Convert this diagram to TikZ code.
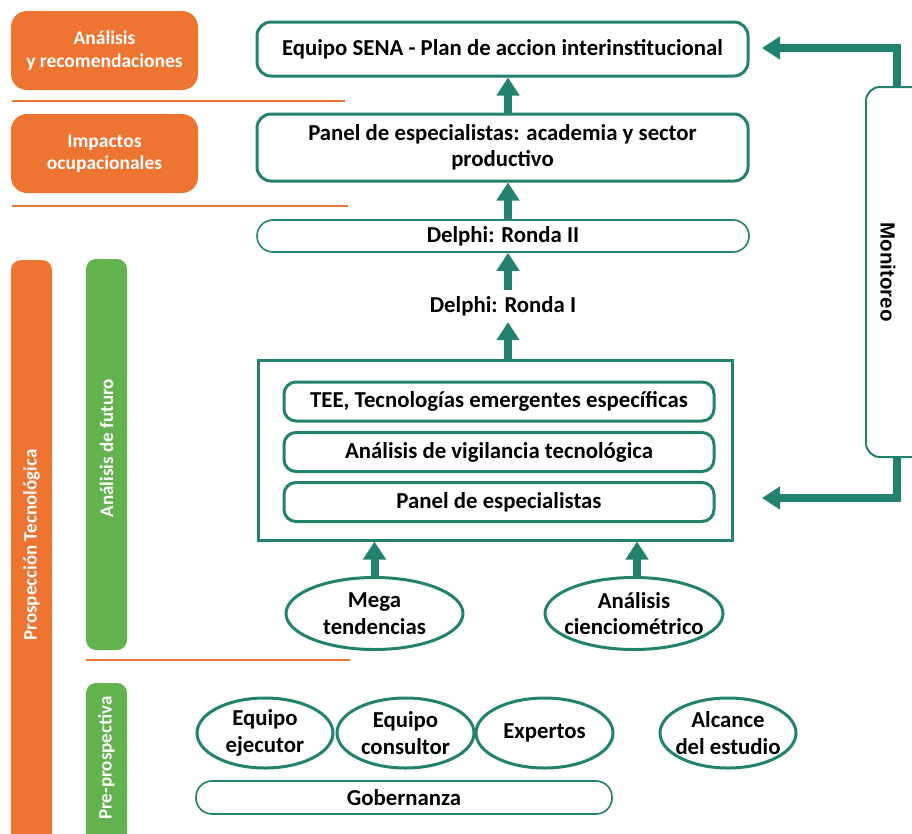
\documentclass[tikz,border=0pt]{standalone}
\usepackage{fontspec}
\setmainfont{Carlito}
\newfontfamily\arialf{Liberation Sans}
\usetikzlibrary{arrows.meta,shapes.geometric,calc}
\definecolor{teal1}{HTML}{23826F}
\definecolor{orng}{HTML}{ED7431}
\definecolor{grn}{HTML}{62B34D}
\begin{document}
\begin{tikzpicture}[x=1pt,y=-1pt,
  txt/.style={font=\fontsize{22.8}{26.5}\selectfont\bfseries, align=center, text=black},
  obox/.style={fill=orng, rounded corners=16pt, text=white, font=\fontsize{19.5}{22.5}\selectfont\bfseries, align=center, inner sep=0pt, minimum width=187pt, minimum height=79pt},
  bar/.style={rounded corners=10pt, inner sep=0pt, minimum width=41pt},
  vlabel/.style={text=white, font=\fontsize{19}{22}\selectfont\bfseries, rotate=90},
  sepline/.style={draw=orng, line width=2.5pt},
  tbox/.style={txt, draw=teal1, line width=3pt, rounded corners=14pt, inner sep=0pt, fill=white},
  thin/.style={txt, draw=teal1, line width=1.6pt, rounded corners=16pt, inner sep=0pt, fill=white},
  ell/.style={txt, ellipse, draw=teal1, line width=3pt, inner xsep=-40pt, inner ysep=-20pt, fill=white},
  bigarrow/.style={draw=teal1, line width=8pt, -{Triangle[width=22pt,length=18pt]}}
]
\clip (0,0) rectangle (912,833);
\fill[white] (0,0) rectangle (912,833);

% left column
\node[obox] (ar) at (104.5,50.5) {Análisis\\y recomendaciones};
\coordinate (l1a) at (12,101); \coordinate (l1b) at (345,101);
\draw[sepline] (l1a) -- (l1b);
\node[obox] (io) at (104.5,153.5) {Impactos\\ocupacionales};
\coordinate (l2a) at (12,206); \coordinate (l2b) at (348,206);
\draw[sepline] (l2a) -- (l2b);

\node[bar, fill=orng, minimum height=590pt] (pt) at (31.5,555) {};
\node[vlabel] (ptl) at (31.5,545) {Prospección Tecnológica};
\node[bar, fill=grn, minimum height=391pt] (af) at (106.5,454.5) {};
\node[vlabel] (afl) at (106.5,448) {Análisis de futuro};
\coordinate (l3a) at (86,660); \coordinate (l3b) at (350,660);
\draw[sepline] (l3a) -- (l3b);
\node[bar, fill=grn, minimum height=180pt] (pp) at (106.5,773) {};
\node[vlabel] (ppl) at (106.5,758) {Pre-prospectiva};

% main column
\node[tbox, minimum width=491pt, minimum height=54pt] (sena) at (502.5,49) {Equipo SENA - Plan de accion interinstitucional};
\node[tbox, minimum width=491pt, minimum height=67pt] (panel) at (502.5,147.5) {Panel de especialistas: academia y sector\\productivo};
\node[thin, minimum width=492pt, minimum height=32pt] (d2) at (503,236) {Delphi: Ronda II};
\node[txt, inner sep=0pt, minimum height=32pt] (d1) at (503,306) {Delphi: Ronda I};

\node[draw=teal1, line width=3pt, minimum width=474pt, minimum height=180pt, inner sep=0pt] (big) at (495,450) {};
\node[tbox, rounded corners=12pt, minimum width=430pt, minimum height=39pt] (tee) at (499,401.5) {TEE, Tecnologías emergentes específicas};
\node[tbox, rounded corners=12pt, minimum width=430pt, minimum height=39pt] (avt) at (499,452) {Análisis de vigilancia tecnológica};
\node[tbox, rounded corners=12pt, minimum width=430pt, minimum height=39pt] (pde) at (499,502) {Panel de especialistas};

\node[ell, minimum width=177pt, minimum height=72pt] (mega) at (374.5,613.5) {Mega\\tendencias};
\node[ell, minimum width=178pt, minimum height=72pt] (cie) at (634,613.5) {Análisis\\cienciométrico};

\node[ell, minimum width=136pt, minimum height=70pt] (ej) at (265,733) {Equipo\\ejecutor};
\node[ell, minimum width=137pt, minimum height=70pt] (co) at (405.5,733) {Equipo\\consultor};
\node[ell, minimum width=137pt, minimum height=70pt] (ex) at (544.5,733) {Expertos};
\node[ell, minimum width=136pt, minimum height=70pt] (al) at (728,733) {Alcance\\del estudio};
\node[thin, minimum width=416pt, minimum height=33pt] (gob) at (404,797.5) {Gobernanza};

% monitoreo
\node[draw=teal1, line width=2pt, rounded corners=14pt, minimum width=64pt, minimum height=370pt, inner sep=0pt] (mon) at (898,272) {};
\node[font=\arialf\fontsize{20.5}{24}\selectfont\bfseries, rotate=-90] (monl) at (888,272) {Monitoreo};

% arrows
\coordinate (ax) at (508,0);
\draw[bigarrow] (panel.north -| ax) -- (sena.south -| ax);
\draw[bigarrow] (d2.north -| ax) -- (panel.south -| ax);
\draw[bigarrow] (d1.north -| ax) -- (d2.south -| ax);
\draw[bigarrow] (big.north -| ax) -- (d1.south -| ax);
\draw[bigarrow] (mega.north) -- (mega.north |- big.south);
\coordinate (cx) at (637,0);
\draw[bigarrow] (cie.north -| cx) -- (big.south -| cx);
\coordinate (m1) at (762,48);
\coordinate (m2) at (762,498);
\draw[bigarrow] ([xshift=-1pt]mon.north) |- (m1);
\draw[bigarrow] ([xshift=-1pt]mon.south) |- (m2);
\end{tikzpicture}
\end{document}
